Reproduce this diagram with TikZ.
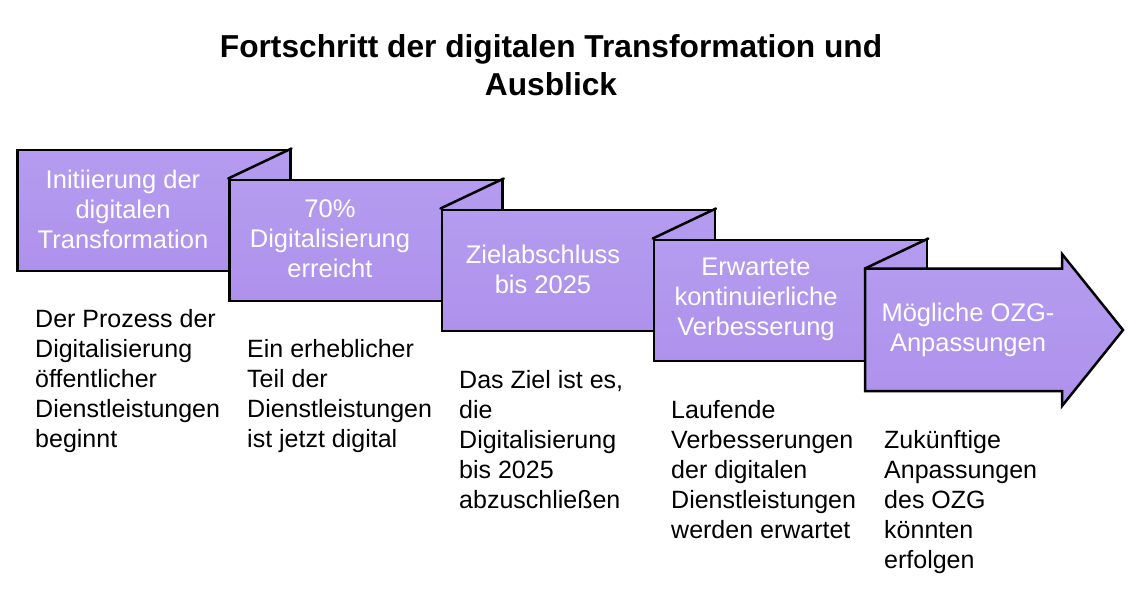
\documentclass[tikz,border=0pt]{standalone}
\usepackage{fontspec}
\setmainfont{Liberation Sans}
\definecolor{purpTop}{HTML}{B59CEF}
\definecolor{purpBot}{HTML}{AE91EC}
\begin{document}
\begin{tikzpicture}[x=1pt,y=-1pt,
  stage/.style={draw=black, line width=2.5pt, line join=miter, top color=purpTop, bottom color=purpBot, minimum width=273pt, minimum height=121pt, inner sep=0pt, anchor=north west},
  foldline/.style={draw=black, line width=2.5pt, line cap=round},
  boxtext/.style={text=white, font=\fontsize{25.5}{30}\selectfont, align=center, inner sep=0pt},
  desc/.style={text=black, font=\fontsize{25}{30}\selectfont, anchor=base west, inner sep=0pt},
  titletext/.style={text=black, font=\fontsize{31.7}{38}\selectfont\bfseries, anchor=base, inner sep=0pt}
]
\useasboundingbox (0,0) rectangle (1140,600);

% title
\node[titletext] (title) at (551,57) {\begin{tabular}[t]{@{}c@{}}Fortschritt der digitalen Transformation und\\Ausblick\end{tabular}};

% stages
\node[stage] (b1) at (16,148.5) {};
\node[stage] (b2) at (228.25,178.5) {};
\draw[foldline] (b2.north west) -- (b1.north east);
\node[stage] (b3) at (440.5,208.5) {};
\draw[foldline] (b3.north west) -- (b2.north east);
\node[stage] (b4) at (652.75,238.5) {};
\draw[foldline] (b4.north west) -- (b3.north east);
\coordinate (a5) at (865,268.5);
\draw[stage] (a5) -- (1062,268.5) -- (1062,254) -- (1123,330) -- (1062,406) -- (1062,391) -- (865,391) -- cycle;
\draw[foldline] (a5) -- (b4.north east);

% stage labels
\node[boxtext] (t1) at (123,209) {Initiierung der\\digitalen\\Transformation};
\node[boxtext] (t2) at (330,239) {70\%\\Digitalisierung\\erreicht};
\node[boxtext] (t3) at (543,269) {Zielabschluss\\bis 2025};
\node[boxtext] (t4) at (756,299) {Erwartete\\kontinuierliche\\Verbesserung};
\node[boxtext] (t5) at (968,330) {Mögliche OZG-\\Anpassungen};

% descriptions
\fontsize{25}{30}\selectfont
\node[desc] (d1) at (35,327) {\begin{tabular}[t]{@{}l@{}}Der Prozess der\\Digitalisierung\\öffentlicher\\Dienstleistungen\\beginnt\end{tabular}};
\node[desc] (d2) at (247,357) {\begin{tabular}[t]{@{}l@{}}Ein erheblicher\\Teil der\\Dienstleistungen\\ist jetzt digital\end{tabular}};
\node[desc] (d3) at (459,388) {\begin{tabular}[t]{@{}l@{}}Das Ziel ist es,\\die\\Digitalisierung\\bis 2025\\abzuschließen\end{tabular}};
\node[desc] (d4) at (671,418) {\begin{tabular}[t]{@{}l@{}}Laufende\\Verbesserungen\\der digitalen\\Dienstleistungen\\werden erwartet\end{tabular}};
\node[desc] (d5) at (884,448) {\begin{tabular}[t]{@{}l@{}}Zukünftige\\Anpassungen\\des OZG\\könnten\\erfolgen\end{tabular}};
\end{tikzpicture}
\end{document}
